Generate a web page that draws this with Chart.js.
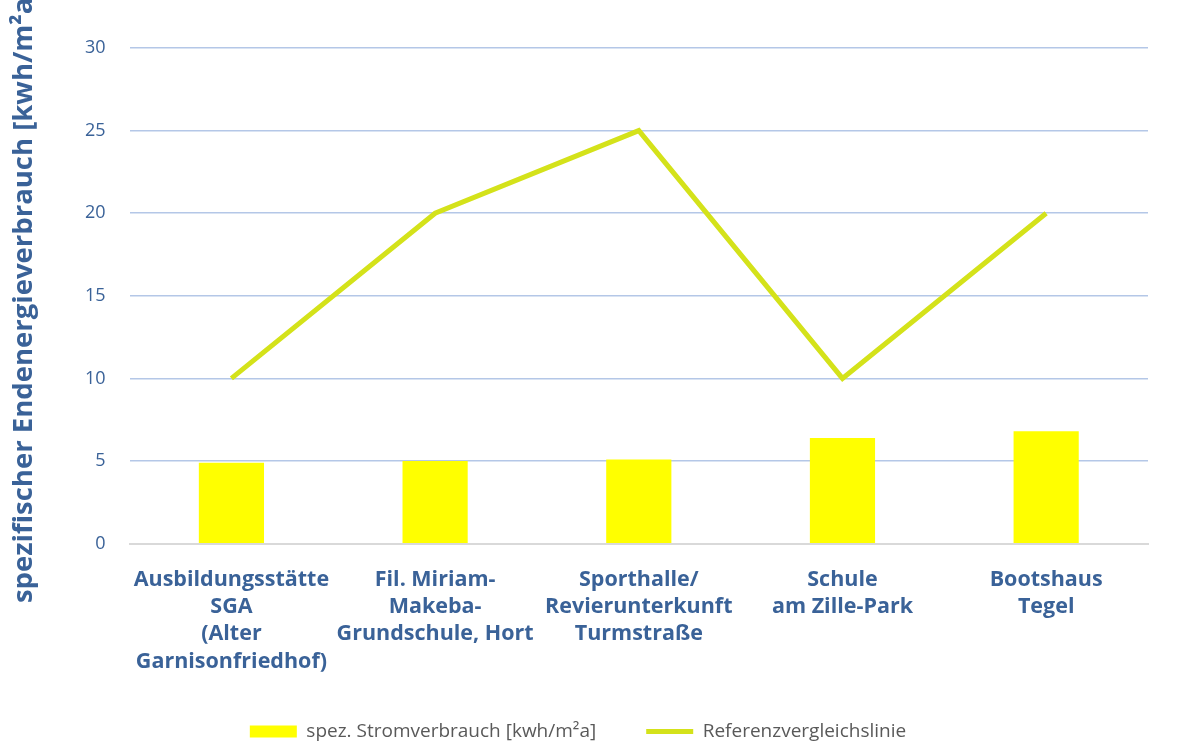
<!DOCTYPE html>
<html>
<head>
<meta charset="utf-8">
<script src="https://cdn.jsdelivr.net/npm/chart.js@4/dist/chart.umd.min.js"></script>
<style>
html,body{margin:0;padding:0;background:#fff;}
#wrap{width:1184px;height:742px;position:relative;}
</style>
</head>
<body>
<div id="wrap"><canvas id="c"></canvas></div>
<script>
const categories = [
  ["Ausbildungsstätte","SGA","(Alter","Garnisonfriedhof)"],
  ["Fil. Miriam-","Makeba-","Grundschule, Hort"],
  ["Sporthalle/","Revierunterkunft","Turmstraße"],
  ["Schule","am Zille-Park"],
  ["Bootshaus","Tegel"]
];
const stromverbrauch = [4.9, 5.0, 5.1, 6.4, 6.8];
const referenzlinie = [10, 20, 25, 10, 20];
const seriesNames = ["spez. Stromverbrauch [kwh/m²a]", "Referenzvergleichslinie"];
const yAxisTitle = "spezifischer Endenergieverbrauch [kwh/m²a]";

const blue = '#3a6298';
const FONT = "'Open Sans', sans-serif";
new Chart(document.getElementById('c'), {
  type: 'bar',
  data: {
    labels: categories,
    datasets: [
      {
        type: 'bar',
        label: seriesNames[0],
        data: stromverbrauch,
        backgroundColor: '#ffff00',
        borderWidth: 0,
        pointStyle: 'rect',
        barPercentage: 0.32,
        categoryPercentage: 1.0,
        order: 2
      },
      {
        type: 'line',
        label: seriesNames[1],
        data: referenzlinie,
        borderColor: '#d4e21a',
        backgroundColor: '#d4e21a',
        borderWidth: 5,
        pointRadius: 0,
        pointStyle: 'line',
        tension: 0,
        order: 1
      }
    ]
  },
  options: {
    responsive: true,
    maintainAspectRatio: false,
    animation: false,
    layout: { padding: { top: 48, left: 8, right: 36, bottom: -9 } },
    plugins: {
      legend: {
        position: 'bottom',
        reverse: true,
        labels: {
          usePointStyle: true,
          pointStyleWidth: 47,
          boxHeight: 12,
          padding: 50,
          color: '#595959',
          font: { family: FONT, size: 19 }
        }
      },
      tooltip: { enabled: false }
    },
    scales: {
      x: {
        grid: { display: false, drawTicks: false },
        border: { color: '#d9d9d9', width: 2 },
        afterFit: (s) => { s.height -= 26; },
        ticks: {
          color: blue,
          padding: 23,
          maxRotation: 0,
          autoSkip: false,
          font: { family: FONT, size: 21.5, weight: 'bold', lineHeight: 1.26 }
        }
      },
      y: {
        min: 0, max: 30,
        ticks: {
          stepSize: 5,
          color: blue,
          padding: 24,
          font: { family: FONT, size: 18 }
        },
        grid: { color: '#b4c7e7', lineWidth: 1.5, drawTicks: false },
        border: { display: false },
        title: {
          display: true,
          text: yAxisTitle,
          color: blue,
          padding: { top: 0, bottom: 20 },
          font: { family: FONT, size: 27.5, weight: 'bold' }
        }
      }
    }
  }
});
</script>
</body>
</html>
